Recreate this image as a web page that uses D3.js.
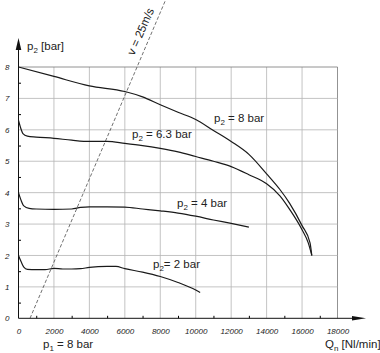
<!DOCTYPE html>
<html>
<head>
<meta charset="utf-8">
<script src="https://cdn.jsdelivr.net/npm/d3@7"></script>
<style>
  body { margin: 0; background: #fff; }
  svg { display: block; font-family: "Liberation Sans", Arial, sans-serif; }
  .tick text { font-style: italic; font-size: 8px; fill: #222; }
  .lbl { font-size: 11.5px; fill: #222; }
</style>
</head>
<body>
<div id="chart"></div>
<script>
// curves: [Qn (Nl/min), p2 (bar)]
var curve8 = [[0,8.0],[2000,7.7],[4000,7.4],[6000,7.22],[7000,7.05],[8000,6.8],[9000,6.56],[10000,6.33],
  [11000,5.98],[12000,5.63],[13000,5.22],[14000,4.6],[14750,4.1],[15300,3.66],[16000,2.95],[16450,2.4],[16550,2.0]];
var curve63 = [[0,6.3],[100,6.1],[250,5.88],[500,5.8],[1000,5.77],[2000,5.73],[3000,5.67],[4000,5.63],[5000,5.63],
  [6000,5.57],[7000,5.5],[8000,5.41],[9000,5.3],[10000,5.15],[11000,5.0],[12000,4.83],[13000,4.57],[14000,4.28],
  [14750,3.9],[15300,3.47],[16000,2.82],[16350,2.4],[16550,2.0]];
var curve4 = [[0,4.0],[150,3.75],[300,3.58],[600,3.5],[1000,3.48],[2000,3.47],[3000,3.48],[3500,3.53],[4000,3.55],
  [5000,3.55],[6000,3.54],[7000,3.48],[8000,3.42],[9000,3.35],[10000,3.25],[11000,3.13],[12000,3.02],[13000,2.9]];
var curve2 = [[0,2.0],[150,1.8],[300,1.63],[500,1.56],[1000,1.55],[1500,1.55],[2000,1.59],[2500,1.57],[3000,1.57],
  [3500,1.58],[4000,1.62],[5000,1.65],[5500,1.65],[6000,1.58],[7000,1.47],[8000,1.33],[9000,1.14],[10000,0.9],[10250,0.82]];
// v = 25 m/s line
var velocityLine = [[650,0],[8350,10.2]];

var xTicks = [0,2000,4000,6000,8000,10000,12000,14000,16000,18000];
var yTicks = [0,1,2,3,4,5,6,7,8];
var xMinor = [1000,3000,5000,7000,9000,11000,13000,15000,17000];
var yMinor = [0.5,1.5,2.5,3.5,4.5,5.5,6.5,7.5];

var width = 380, height = 353;

var x = d3.scaleLinear().domain([0, 18000]).range([18.5, 337.5]);
var y = d3.scaleLinear().domain([0, 8]).range([318.3, 67]);

var svg = d3.select("#chart").append("svg")
    .attr("width", width)
    .attr("height", height);

// grid
svg.append("g").selectAll("line").data(xTicks.slice(1)).enter().append("line")
    .attr("x1", d => x(d)).attr("x2", d => x(d))
    .attr("y1", y(0)).attr("y2", y(8))
    .attr("stroke", d => d == 18000 ? "#777" : "#b4b4b4").attr("stroke-width", 0.8);
svg.append("g").selectAll("line").data(yTicks.slice(1)).enter().append("line")
    .attr("x1", x(0)).attr("x2", x(18000))
    .attr("y1", d => y(d)).attr("y2", d => y(d))
    .attr("stroke", d => d == 8 ? "#777" : "#b4b4b4").attr("stroke-width", 0.8);

// axes with labels
var xAxis = svg.append("g")
    .attr("transform", "translate(0," + y(0) + ")")
    .call(d3.axisBottom(x).tickValues(xTicks).tickSize(0).tickPadding(10).tickFormat(d3.format("d")));
xAxis.select(".domain").remove();
var yAxis = svg.append("g")
    .attr("transform", "translate(" + x(0) + ",0)")
    .call(d3.axisLeft(y).tickValues(yTicks).tickSize(0).tickPadding(9));
yAxis.select(".domain").remove();

// inward minor ticks
svg.append("g")
    .attr("transform", "translate(0," + y(0) + ")")
    .call(d3.axisTop(x).tickValues(xMinor).tickSize(2.5).tickFormat(""))
    .select(".domain").remove();
svg.append("g")
    .attr("transform", "translate(" + x(0) + ",0)")
    .call(d3.axisRight(y).tickValues(yMinor).tickSize(2.5).tickFormat(""))
    .select(".domain").remove();

// axis lines and arrows
svg.append("line").attr("x1", x(0)).attr("x2", x(0)).attr("y1", y(0)).attr("y2", 46)
    .attr("stroke", "#111").attr("stroke-width", 1);
svg.append("path").attr("d", "M" + x(0) + ",38 L" + (x(0) - 2.8) + ",50 L" + (x(0) + 2.8) + ",50 Z").attr("fill", "#111");
svg.append("line").attr("x1", x(0)).attr("x2", 356).attr("y1", y(0)).attr("y2", y(0))
    .attr("stroke", "#111").attr("stroke-width", 1);
svg.append("path").attr("d", "M366," + y(0) + " L352," + (y(0) - 2.2) + " L352," + (y(0) + 2.2) + " Z").attr("fill", "#111");

// velocity line
var line = d3.line().x(d => x(d[0])).y(d => y(d[1]));
svg.append("path").datum(velocityLine)
    .attr("d", line)
    .attr("fill", "none").attr("stroke", "#333").attr("stroke-width", 0.7)
    .attr("stroke-dasharray", "3.5,2");

// curves
var smooth = d3.line().x(d => x(d[0])).y(d => y(d[1])).curve(d3.curveMonotoneX);
[curve8, curve63, curve4, curve2].forEach(function(c) {
    svg.append("path").datum(c)
        .attr("d", smooth)
        .attr("fill", "none").attr("stroke", "#1a1a1a").attr("stroke-width", 1.2);
});

// text with subscripts
function subLabel(xp, yp, main, sub, rest) {
    var t = svg.append("text").attr("class", "lbl").attr("x", xp).attr("y", yp);
    t.append("tspan").text(main);
    t.append("tspan").attr("dy", 3).style("font-size", "8px").text(sub);
    t.append("tspan").attr("dy", -3).text(rest);
    return t;
}
subLabel(27, 50, "p", "2", " [bar]");
subLabel(214, 122, "p", "2", " = 8 bar");
subLabel(132, 138, "p", "2", " = 6.3 bar");
subLabel(177, 207, "p", "2", " = 4 bar");
subLabel(153, 268, "p", "2", "= 2 bar");
subLabel(43, 348, "p", "1", " = 8 bar");
subLabel(325, 348, "Q", "n", " [Nl/min]");

svg.append("text").attr("class", "lbl")
    .attr("transform", "translate(134,56) rotate(-66)")
    .text("v = 25m/s");
</script>
</body>
</html>
